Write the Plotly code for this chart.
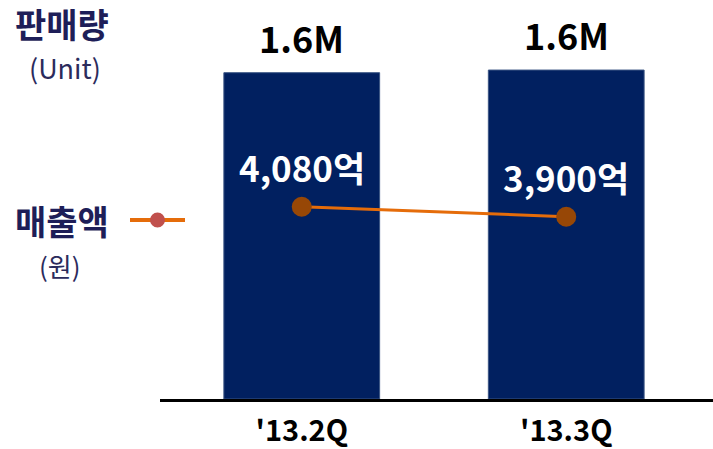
import plotly.graph_objects as go

quarters = ["'13.2Q", "'13.3Q"]
units_m = [1.600, 1.613]          # 판매량 (million units)
units_labels = ["1.6M", "1.6M"]
sales_eok = [4080, 3900]          # 매출액 (억 원)
sales_labels = ["4,080억", "3,900억"]

FONT = "Noto Sans CJK KR"
NAVY = "#012060"
W, H = 713, 449
ML, MB = 160, 50

fig = go.Figure()
fig.add_trace(go.Bar(
    x=quarters, y=units_m, width=0.589,
    marker=dict(color=NAVY, line=dict(color="#3b5584", width=1)),
    showlegend=False, hoverinfo="skip"))
fig.add_trace(go.Scatter(
    x=quarters, y=sales_eok, yaxis="y2", mode="lines+markers",
    line=dict(color="#e56c0a", width=3),
    marker=dict(color="#974706", size=20),
    showlegend=False, hoverinfo="skip"))

annotations = []
for q, v, t in zip(quarters, units_m, units_labels):
    annotations.append(dict(x=q, y=v, xref="x", yref="y", text=t, showarrow=False,
                            yanchor="middle", yshift=36,
                            font=dict(family=FONT, size=36, color="black", weight="bold")))
for q, v, t in zip(quarters, sales_eok, sales_labels):
    annotations.append(dict(x=q, y=v, xref="x", yref="y2", text=t, showarrow=False,
                            yanchor="middle", yshift=40,
                            font=dict(family=FONT, size=35, color="white", weight="bold")))

def ax_x(x): return (x - ML) / (W - ML)
def ax_y(y): return (H - MB - y) / (H - MB)

side_texts = [
    ("판매량", 62, 23, 34, "#1e1e58", "bold"),
    ("(Unit)", 65, 67, 27, "#2b2b5c", "normal"),
    ("매출액", 62, 220, 34, "#1e1e58", "bold"),
    ("(원)", 60, 265, 26, "#2b2b5c", "normal"),
]
for t, x, y, s, c, w in side_texts:
    annotations.append(dict(x=ax_x(x), y=ax_y(y), xref="paper", yref="paper", text=t,
                            showarrow=False, xanchor="center", yanchor="middle",
                            font=dict(family=FONT, size=s, color=c, weight=w)))

fig.update_layout(
    width=W, height=H,
    margin=dict(l=ML, r=0, t=0, b=MB, pad=0),
    paper_bgcolor="white", plot_bgcolor="white",
    xaxis=dict(type="category", range=[-0.536, 1.555], showgrid=False, automargin=False,
               showline=True, linecolor="black", linewidth=3,
               ticks="outside", ticklen=4, tickcolor="rgba(0,0,0,0)",
               tickfont=dict(family=FONT, size=29, color="black", weight="bold")),
    yaxis=dict(range=[0, 1.9565], visible=False, showgrid=False, zeroline=False),
    yaxis2=dict(range=[619, 7801], overlaying="y", visible=False, showgrid=False, zeroline=False),
    annotations=annotations,
    shapes=[
        dict(type="line", xref="paper", yref="paper", x0=ax_x(130), x1=ax_x(185),
             y0=ax_y(220), y1=ax_y(220), line=dict(color="#e56c0a", width=4)),
        dict(type="circle", xref="paper", yref="paper", x0=ax_x(150), x1=ax_x(165),
             y0=ax_y(212.5), y1=ax_y(227.5),
             fillcolor="#c0504d", line=dict(color="#c0504d", width=0)),
    ],
)

fig.write_html("out.html", config={"displayModeBar": False},
               post_script="document.body.style.margin='0';")
